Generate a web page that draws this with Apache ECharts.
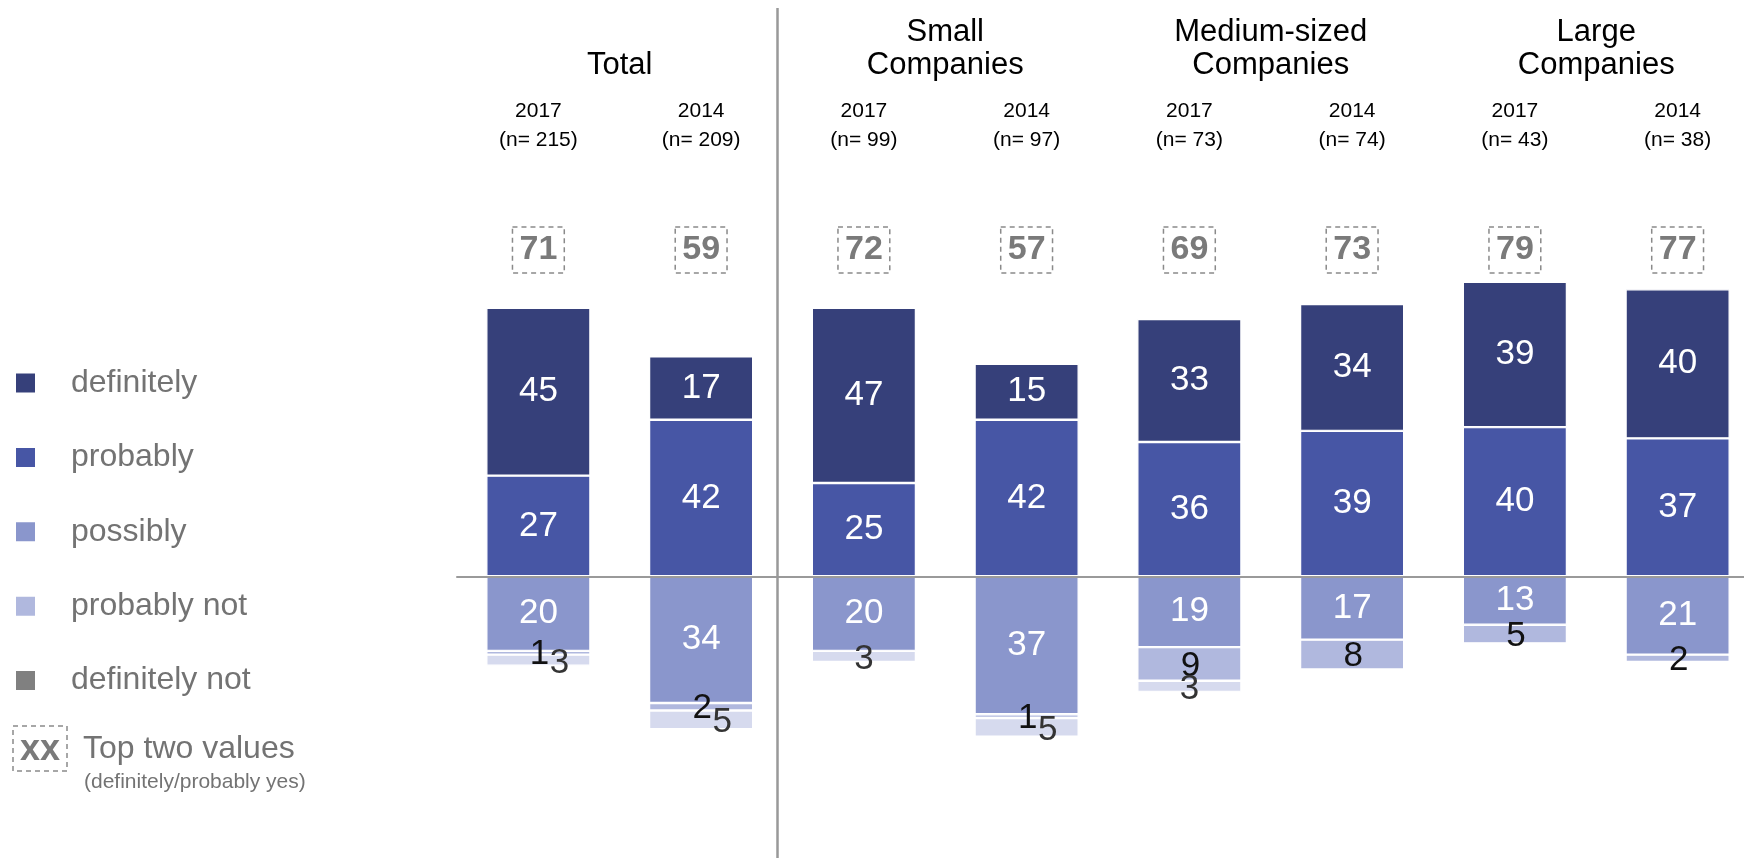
<!DOCTYPE html>
<html><head><meta charset="utf-8">
<script src="https://cdn.jsdelivr.net/npm/echarts@6/dist/echarts.min.js"></script>
<style>html,body{margin:0;padding:0;background:#fff}#c{width:1744px;height:858px}</style>
</head><body><div id="c"></div>
<script>
// ---- data ----
const groups = ['Total', 'Small\nCompanies', 'Medium-sized\nCompanies', 'Large\nCompanies'];
const years = ['2017', '2014', '2017', '2014', '2017', '2014', '2017', '2014'];
const sampleSizes = [215, 209, 99, 97, 73, 74, 43, 38];
const definitely = [45, 17, 47, 15, 33, 34, 39, 40];
const probably = [27, 42, 25, 42, 36, 39, 40, 37];
const possibly = [20, 34, 20, 37, 19, 17, 13, 21];
const probablyNot = [1, 2, 0, 1, 9, 8, 5, 2];
const definitelyNot = [3, 5, 3, 5, 3, 0, 0, 0];
const topTwo = [71, 59, 72, 57, 69, 73, 79, 77];
const legendNames = ['definitely', 'probably', 'possibly', 'probably not', 'definitely not'];

// ---- styles ----
const FONT = '"Liberation Sans", Arial, sans-serif';
const COL = {
  'definitely': '#36407a',
  'probably': '#4756a5',
  'possibly': '#8a96cc',
  'probably not': '#b0b8de',
  'definitely not': '#d6daee'
};
const GRID_LEFT = 457, GRID_W = 325.5;
const GRID_TOP = 278, GRID_H = 522, YMIN = -60, YMAX = 80;

const grid = [], xAxis = [], yAxis = [], series = [];

groups.forEach((groupName, g) => {
  const idx = [2 * g, 2 * g + 1];
  grid.push({ left: GRID_LEFT + g * GRID_W, width: GRID_W, top: GRID_TOP, height: GRID_H,
    containLabel: false, outerBoundsMode: 'none' });
  yAxis.push({ gridIndex: g, type: 'value', min: YMIN, max: YMAX, show: false });
  xAxis.push({
    gridIndex: g, type: 'category', position: 'top',
    data: idx.map(i => years[i] + '\n(n= ' + sampleSizes[i] + ')'),
    axisLine: { show: false }, axisTick: { show: false }, splitLine: { show: false },
    axisLabel: { margin: 123, fontSize: 21, lineHeight: 29, color: '#000', fontFamily: FONT },
    name: groupName, nameLocation: 'middle', nameGap: 196,
    nameTextStyle: { fontSize: 31, lineHeight: 33, color: '#000', fontFamily: FONT }
  });
  xAxis.push({
    gridIndex: g, type: 'category', position: 'top',
    data: idx.map(i => String(topTwo[i])),
    axisLine: { show: false }, axisTick: { show: false }, splitLine: { show: false },
    axisLabel: {
      margin: 5, fontSize: 34, lineHeight: 34, fontWeight: 'bold', color: '#7a7a7a', fontFamily: FONT,
      borderType: [5, 4], borderColor: '#8a8a8a', borderWidth: 1.5,
      padding: [6, 7, 6, 7]
    }
  });

  const common = (name) => ({
    name, type: 'bar', stack: 'st' + g, xAxisIndex: 2 * g, yAxisIndex: g,
    barWidth: '64%',
    itemStyle: { color: COL[name], borderColor: '#fff', borderWidth: 1.2 },
    emphasis: { disabled: true }
  });
  const whiteLabel = {
    show: true, position: 'inside', color: '#fff', fontSize: 35, fontFamily: FONT,
    formatter: p => (p.value == null || p.value === 0) ? '' : String(Math.abs(p.value))
  };
  // positive stack
  series.push(Object.assign(common('probably'), { label: whiteLabel, data: idx.map(i => probably[i]) }));
  series.push(Object.assign(common('definitely'), { label: whiteLabel, data: idx.map(i => definitely[i]) }));
  // negative stack
  series.push(Object.assign(common('possibly'), { label: whiteLabel, data: idx.map(i => possibly[i] ? -possibly[i] : null) }));
  series.push(Object.assign(common('probably not'), {
    label: Object.assign({}, whiteLabel, { color: '#111', offset: [1, 2] }),
    data: idx.map(i => probablyNot[i] ? -probablyNot[i] : null)
  }));
  series.push(Object.assign(common('definitely not'), {
    label: Object.assign({}, whiteLabel, { color: '#333' }),
    data: idx.map(i => definitelyNot[i] ? {
      value: -definitelyNot[i],
      label: { offset: [(probablyNot[i] > 0 && probablyNot[i] < 3) ? 21 : 0, 3] }
    } : null)
  }));
});

// baseline axis spanning to right edge
grid.push({ left: GRID_LEFT, right: 0, top: GRID_TOP, height: GRID_H, containLabel: false, outerBoundsMode: 'none' });
yAxis.push({ gridIndex: 4, type: 'value', min: YMIN, max: YMAX, show: false });
xAxis.push({
  gridIndex: 4, type: 'category', data: [''], position: 'bottom', z: 10,
  axisLine: { show: true, onZero: true, lineStyle: { color: '#9a9a9a', width: 2 } },
  axisTick: { show: false }, axisLabel: { show: false }, splitLine: { show: false }
});

const option = {
  animation: false,
  backgroundColor: '#fff',
  textStyle: { fontFamily: FONT },
  grid, xAxis, yAxis, series,
  legend: {
    orient: 'vertical', left: 9, top: 362, itemWidth: 21, itemHeight: 21, itemGap: 42.4,
    icon: 'rect', selectedMode: false,
    textStyle: { fontSize: 32, lineHeight: 31, color: '#737373', fontFamily: FONT, padding: [0, 0, 0, 30] },
    data: legendNames.map(n => n === 'definitely not'
      ? { name: n, itemStyle: { color: '#808080' } }
      : { name: n })
  },
  graphic: [
    { type: 'line', z: 100, shape: { x1: 777.5, y1: 8, x2: 777.5, y2: 858 },
      style: { stroke: '#999', lineWidth: 2.5 } },
    { type: 'rect', shape: { x: 13, y: 726, width: 54, height: 45 },
      style: { fill: 'none', stroke: '#8a8a8a', lineWidth: 1.5, lineDash: [5, 4] } },
    { type: 'text', x: 40, y: 750, style: { text: 'xx', fontSize: 36, fontWeight: 'bold', fill: '#7a7a7a',
      fontFamily: FONT, align: 'center', verticalAlign: 'middle' } },
    { type: 'text', x: 83, y: 749, style: { text: 'Top two values', fontSize: 32, fill: '#737373',
      fontFamily: FONT, align: 'left', verticalAlign: 'middle' } },
    { type: 'text', x: 84, y: 782, style: { text: '(definitely/probably yes)', fontSize: 21, fill: '#737373',
      fontFamily: FONT, align: 'left', verticalAlign: 'middle' } }
  ]
};

const chart = echarts.init(document.getElementById('c'), null, { renderer: 'canvas' });
chart.setOption(option);
</script>
</body></html>
